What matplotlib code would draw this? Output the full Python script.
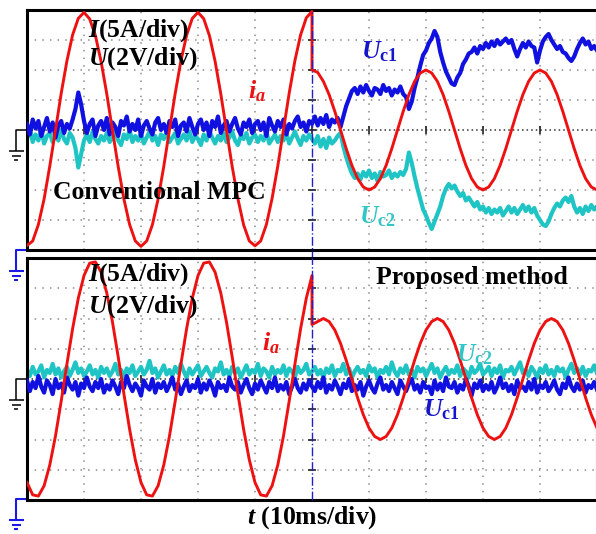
import numpy as np
import matplotlib
matplotlib.use("Agg")
import matplotlib.pyplot as plt

plt.rcParams["font.family"] = ["Liberation Serif", "DejaVu Serif"]
plt.rcParams["mathtext.fontset"] = "custom"
plt.rcParams["mathtext.rm"] = "Liberation Serif:bold"
plt.rcParams["mathtext.it"] = "Liberation Serif:italic:bold"
plt.rcParams["mathtext.bf"] = "Liberation Serif:bold"

RED = "#ee1111"
BLUE = "#1010e0"
CYAN = "#1fc4c4"

# values in divisions (x: 10 ms/div, y: 5 A/div or 2 V/div), step change at 5 div
# phase current, 0.1 div sampling
ia_top_pre = [-3.85, -3.70, -3.15, -2.30, -1.20, 0.00, 1.22, 2.30, 3.17, 3.72, 3.92,
              3.70, 3.15, 2.28, 1.20, -0.02, -1.22, -2.30, -3.15, -3.70, -3.88,
              -3.70, -3.16, -2.30, -1.21, 0.01, 1.22, 2.30, 3.16, 3.72, 3.92,
              3.71, 3.15, 2.29, 1.20, -0.01, -1.22, -2.29, -3.16, -3.70, -3.86,
              -3.70, -3.15, -2.28, -1.20, 0.02, 1.23, 2.31, 3.17, 3.74, 3.95]
ia_top_post = [2.00, 1.92, 1.62, 1.18, 0.62, 0.00, -0.62, -1.18, -1.62, -1.90, -2.00,
               -1.90, -1.62, -1.18, -0.62, 0.00, 0.62, 1.18, 1.62, 1.90, 2.00,
               1.90, 1.62, 1.18, 0.62, 0.00, -0.62, -1.18, -1.62, -1.90, -2.00,
               -1.90, -1.62, -1.18, -0.62, 0.00, 0.62, 1.18, 1.62, 1.90, 2.00,
               1.90, 1.62, 1.18, 0.62, 0.00, -0.62, -1.18, -1.62, -1.90, -2.00]
ia_bot_pre = [-3.42, -3.83, -3.87, -3.53, -2.84, -1.88, -0.73, 0.49, 1.66, 2.67,
              3.42, 3.83, 3.87, 3.53, 2.84, 1.88, 0.73, -0.49, -1.66, -2.67,
              -3.42, -3.83, -3.87, -3.53, -2.84, -1.88, -0.73, 0.49, 1.66, 2.67,
              3.42, 3.83, 3.87, 3.53, 2.84, 1.88, 0.73, -0.49, -1.66, -2.67,
              -3.42, -3.83, -3.87, -3.53, -2.84, -1.88, -0.73, 0.49, 1.66, 2.67,
              3.42]
ia_bot_post = [1.80, 1.90, 2.00, 1.90, 1.62, 1.18, 0.62, 0.00, -0.62, -1.18, -1.62,
               -1.90, -2.00, -1.90, -1.62, -1.18, -0.62, 0.00, 0.62, 1.18, 1.62,
               1.90, 2.00, 1.90, 1.62, 1.18, 0.62, 0.00, -0.62, -1.18, -1.62,
               -1.90, -2.00, -1.90, -1.62, -1.18, -0.62, 0.00, 0.62, 1.18, 1.62,
               1.90, 2.00, 1.90, 1.62, 1.18, 0.62, 0.00, -0.62, -1.18, -1.62]

# capacitor voltages, 0.05 div sampling
uc1_top = [0.20, -0.15, 0.35, 0.05, 0.30, -0.20, 0.10, 0.40, -0.05, 0.25,
           -0.25, 0.15, 0.30, -0.10, 0.20, 0.05, 0.35, 0.70, 1.25, 0.85,
           0.30, -0.10, 0.20, 0.35, -0.20, 0.15, 0.30, 0.00, 0.40, -0.15,
           0.25, 0.10, -0.20, 0.30, 0.15, 0.45, -0.05, 0.20, 0.00, 0.35,
           -0.20, 0.15, 0.30, 0.05, -0.15, 0.25, 0.40, 0.00, 0.20, -0.10,
           0.30, 0.10, 0.35, -0.20, 0.15, 0.25, -0.05, 0.40, 0.10, -0.15,
           0.20, 0.35, 0.00, 0.25, -0.20, 0.30, 0.10, 0.45, -0.10, 0.15,
           0.30, -0.05, 0.20, 0.40, 0.05, -0.15, 0.25, 0.10, 0.35, -0.10,
           0.20, 0.30, 0.00, 0.25, -0.20, 0.40, 0.15, -0.05, 0.30, 0.10,
           0.35, -0.15, 0.20, 0.05, 0.30, 0.45, 0.10, 0.25, -0.05, 0.30,
           0.20, 0.45, 0.15, 0.40, 0.20, 0.50, 0.10, 0.35, 0.25, 0.40,
           0.10, 0.45, 0.80, 1.05, 1.30, 1.40, 1.20, 1.45, 1.25, 1.50,
           1.30, 1.15, 1.40, 1.35, 1.20, 1.50, 1.30, 1.40, 1.15, 1.35,
           1.25, 1.45, 1.20, 1.10, 0.70, 0.95, 1.40, 1.75, 2.15, 2.50,
           2.65, 2.90, 3.05, 3.30, 3.10, 2.60, 2.25, 1.95, 1.75, 1.55,
           1.50, 1.75, 1.90, 2.20, 2.35, 2.55, 2.60, 2.75, 2.55, 2.80,
           2.70, 2.90, 2.75, 2.95, 2.80, 3.00, 2.85, 2.95, 3.05, 2.90,
           3.00, 2.70, 2.45, 2.70, 2.90, 2.75, 2.95, 2.80, 2.75, 2.25,
           2.65, 2.95, 3.10, 3.20, 3.00, 2.85, 2.70, 2.80, 2.60, 2.55,
           2.40, 2.30, 2.45, 2.70, 2.90, 3.05, 2.85, 2.95, 2.70, 2.80,
           2.65]
uc2_top = [-0.30, 0.05, -0.40, -0.15, -0.35, 0.00, -0.45, -0.20, -0.10, -0.40,
           -0.15, -0.35, 0.00, -0.30, -0.45, -0.10, -0.25, -0.60, -1.25, -0.80,
           -0.35, -0.15, -0.40, -0.05, -0.30, -0.45, -0.20, -0.35, -0.10, -0.40,
           -0.25, -0.05, -0.35, -0.50, -0.15, -0.30, 0.00, -0.40, -0.20, -0.35,
           -0.10, -0.45, -0.25, -0.05, -0.35, -0.20, -0.50, -0.15, -0.30, -0.05,
           -0.40, -0.25, -0.10, -0.45, -0.30, -0.15, -0.35, -0.05, -0.40, -0.20,
           -0.30, -0.50, -0.15, -0.35, -0.05, -0.25, -0.45, -0.20, -0.35, -0.10,
           -0.40, -0.25, -0.05, -0.35, -0.50, -0.20, -0.30, -0.10, -0.45, -0.25,
           -0.15, -0.40, -0.20, -0.35, -0.05, -0.45, -0.30, -0.15, -0.40, -0.20,
           -0.35, -0.10, -0.45, -0.25, -0.05, -0.30, -0.50, -0.20, -0.35, -0.15,
           -0.30, -0.45, -0.20, -0.55, -0.30, -0.60, -0.25, -0.45, -0.35, -0.20,
           -0.10, -0.55, -0.90, -1.20, -1.45, -1.60, -1.45, -1.65, -1.40, -1.55,
           -1.35, -1.60, -1.45, -1.70, -1.40, -1.55, -1.50, -1.35, -1.60, -1.45,
           -1.55, -1.40, -1.50, -1.30, -0.75, -1.10, -1.55, -1.95, -2.30, -2.65,
           -2.85, -3.10, -3.30, -3.05, -2.80, -2.55, -2.20, -1.95, -1.80, -1.95,
           -1.85, -2.05, -2.20, -2.10, -2.35, -2.25, -2.40, -2.55, -2.40, -2.65,
           -2.55, -2.75, -2.60, -2.80, -2.65, -2.75, -2.60, -2.85, -2.70, -2.55,
           -2.75, -2.60, -2.80, -2.65, -2.50, -2.70, -2.55, -2.75, -2.60, -2.85,
           -3.00, -3.15, -3.20, -3.05, -2.80, -2.60, -2.45, -2.55, -2.35, -2.25,
           -2.40, -2.20, -2.55, -2.75, -2.60, -2.80, -2.55, -2.70, -2.50, -2.65,
           -2.55]
uc1_bot = [-0.05, -0.40, -0.10, -0.30, 0.10, -0.25, -0.45, -0.05, -0.20, -0.50,
           0.00, -0.30, -0.15, -0.45, 0.05, -0.20, -0.35, -0.10, -0.55, -0.15,
           -0.30, 0.05, -0.25, -0.40, -0.10, -0.30, 0.00, -0.45, -0.20, -0.35,
           -0.05, -0.25, -0.50, -0.10, -0.30, 0.10, -0.20, -0.40, -0.15, -0.30,
           -0.55, -0.05, -0.25, -0.35, 0.00, -0.45, -0.15, -0.30, -0.10, -0.40,
           -0.20, 0.05, -0.35, -0.15, -0.50, -0.25, -0.05, -0.40, -0.20, -0.30,
           0.00, -0.45, -0.15, -0.35, -0.05, -0.25, -0.55, -0.10, -0.30, -0.20,
           -0.40, 0.05, -0.25, -0.35, -0.10, -0.45, -0.20, 0.00, -0.30, -0.50,
           -0.15, -0.35, -0.05, -0.25, -0.45, -0.10, -0.30, 0.05, -0.40, -0.20,
           -0.35, -0.10, -0.50, -0.25, 0.00, -0.30, -0.45, -0.15, -0.35, -0.05,
           -0.25,
           -0.40, -0.10, -0.30, 0.05, -0.45, -0.20, -0.35, -0.05, -0.25, -0.50,
           -0.15, -0.30, 0.00, -0.40, -0.20, -0.35, -0.10, -0.55, -0.25, -0.05,
           -0.30, -0.45, -0.15, 0.05, -0.35, -0.20, -0.40, -0.10, -0.30, -0.50,
           -0.05, -0.25, -0.40, -0.15, 0.00, -0.35, -0.20, -0.45, -0.10, -0.30,
           -0.25, -0.50, -0.05, -0.35, -0.15, -0.40, 0.05, -0.25, -0.30, -0.10,
           -0.45, -0.20, -0.35, 0.00, -0.25, -0.55, -0.15, -0.30, -0.05, -0.40,
           -0.20, -0.35, -0.10, -0.45, -0.25, 0.05, -0.30, -0.15, -0.40, -0.20,
           -0.50, -0.05, -0.30, -0.25, -0.40, -0.10, -0.35, 0.00, -0.45, -0.20,
           -0.30, -0.10, -0.40, -0.25, -0.05, -0.35, -0.50, -0.15, -0.30, 0.05,
           -0.25, -0.40, -0.15, -0.35, -0.05, -0.45, -0.20, -0.30, -0.10, -0.35]
uc2_bot = [0.30, 0.10, 0.40, 0.15, 0.25, 0.45, 0.05, 0.30, 0.20, 0.50,
           0.15, 0.35, 0.05, 0.25, 0.40, 0.10, 0.30, 0.55, 0.20, 0.35,
           0.10, 0.25, 0.45, 0.15, 0.30, 0.05, 0.40, 0.20, 0.35, 0.10,
           0.25, 0.50, 0.15, 0.30, 0.05, 0.35, 0.20, 0.45, 0.10, 0.25,
           0.40, 0.15, 0.30, 0.60, 0.20, 0.35, 0.05, 0.25, 0.45, 0.15,
           0.30, 0.10, 0.40, 0.20, 0.50, 0.25, 0.05, 0.35, 0.15, 0.30,
           0.45, 0.10, 0.25, 0.40, 0.20, 0.05, 0.35, 0.25, 0.55, 0.15,
           0.30, 0.10, 0.40, 0.20, 0.35, 0.05, 0.25, 0.45, 0.15, 0.30,
           0.20, 0.50, 0.10, 0.35, 0.25, 0.05, 0.40, 0.15, 0.30, 0.20,
           0.45, 0.10, 0.35, 0.25, 0.05, 0.40, 0.20, 0.30, 0.50, 0.15,
           0.25,
           0.40, 0.15, 0.30, 0.05, 0.35, 0.20, 0.45, 0.10, 0.30, 0.25,
           0.50, 0.15, 0.35, 0.05, 0.25, 0.40, 0.20, 0.30, 0.10, 0.45,
           0.25, 0.35, 0.05, 0.30, 0.20, 0.40, 0.15, 0.55, 0.25, 0.10,
           0.35, 0.20, 0.45, 0.15, 0.30, 0.05, 0.40, 0.25, 0.35, 0.10,
           0.30, 0.50, 0.20, 0.35, 0.05, 0.25, 0.40, 0.15, 0.30, 0.20,
           0.45, 0.10, 0.35, 0.25, 0.05, 0.40, 0.20, 0.30, 0.50, 0.15,
           0.25, 0.40, 0.10, 0.35, 0.20, 0.45, 0.05, 0.30, 0.25, 0.40,
           0.15, 0.35, 0.55, 0.20, 0.30, 0.10, 0.40, 0.25, 0.05, 0.35,
           0.20, 0.45, 0.15, 0.30, 0.10, 0.40, 0.25, 0.35, 0.05, 0.30,
           0.50, 0.20, 0.35, 0.15, 0.40, 0.10, 0.30, 0.25, 0.45, 0.20]

T_STEP = 5  # division where the step happens

W, H = 596, 534
fig = plt.figure(figsize=(W / 100, H / 100), dpi=100)
ax1 = fig.add_axes([27 / W, (H - 250) / H, 570 / W, 240 / H])
ax2 = fig.add_axes([27 / W, (H - 500) / H, 570 / W, 242 / H])


def scope_grid(ax, trig_ymin):
    ax.set_xlim(0, 10)
    ax.set_ylim(-4, 4)
    ax.set_xticks([])
    ax.set_yticks([])
    for s in ax.spines.values():
        s.set_linewidth(2.2)
    for x in range(1, 10):
        if x != T_STEP:
            ax.axvline(x, color="#8c8c8c", lw=1.1, ls=(0, (1, 4)), zorder=1)
    for y in range(-3, 4):
        if y != 0:
            ax.axhline(y, color="#8c8c8c", lw=1.1, ls=(0, (1, 4)), zorder=1)
    ax.axhline(0, color="#333333", lw=1.1, ls=(0, (1, 2)), zorder=1)
    ax.plot(range(1, 10), [0] * 9, ls="none", marker="|", ms=6, mew=1.2, color="#222222", zorder=1)
    ax.plot([T_STEP] * 7, range(-3, 4), ls="none", marker="_", ms=6, mew=1.2, color="#222222", zorder=1)
    ax.axvline(T_STEP, ymin=trig_ymin, ymax=1, color="#2020cc", lw=1.0, ls="-.", zorder=6, clip_on=False)


def traces(ax, pre, post, u1, u2):
    t_pre = np.arange(len(pre)) * 0.1
    t_post = T_STEP + np.arange(len(post)) * 0.1
    ax.plot(np.arange(len(u2)) * 0.05, u2, color=CYAN, lw=3.0, zorder=2)
    ax.plot(np.arange(len(u1)) * 0.05, u1, color=BLUE, lw=3.0, zorder=3)
    ax.plot(np.concatenate([t_pre, t_post]), pre + post, color=RED, lw=2.1, zorder=4)


scope_grid(ax1, -0.04)
scope_grid(ax2, 0)
traces(ax1, ia_top_pre, ia_top_post, uc1_top, uc2_top)
traces(ax2, ia_bot_pre, ia_bot_post, uc1_bot, uc2_bot)

fs = 18.5
for ax, y1, y2 in [(ax1, 3.33, 2.37), (ax2, 3.44, 2.38)]:
    ax.text(1.07, y1, r"$\mathit{I}$(5A/div)", fontsize=fs, fontweight="bold", ha="left", va="center", zorder=8)
    ax.text(1.07, y2, r"$\mathit{U}$(2V/div)", fontsize=fs, fontweight="bold", ha="left", va="center", zorder=8)

ax1.text(3.88, 1.3, r"$i_a$", fontsize=fs, color=RED, ha="left", va="center", zorder=8)
ax1.text(0.45, -2.07, "Conventional MPC", fontsize=fs, fontweight="bold", ha="left", va="center", zorder=8)
ax1.text(5.86, 2.6, r"$\mathit{U}_{\mathrm{c1}}$", fontsize=fs, color="#1515cc", ha="left", va="center", zorder=8)
ax1.text(5.82, -2.9, r"$\mathit{U}_{\mathrm{c2}}$", fontsize=fs, color="#33c6c6", ha="left", va="center", zorder=8)

ax2.text(4.12, 1.19, r"$i_a$", fontsize=fs, color=RED, ha="left", va="center", zorder=8)
ax2.text(6.12, 3.37, "Proposed method", fontsize=fs, fontweight="bold", ha="left", va="center", zorder=8)
ax2.text(7.53, 0.79, r"$\mathit{U}_{\mathrm{c2}}$", fontsize=fs, color="#33c6c6", ha="left", va="center", zorder=8)
ax2.text(6.95, -1.02, r"$\mathit{U}_{\mathrm{c1}}$", fontsize=fs, color="#1515cc", ha="left", va="center", zorder=8)

ax2.set_xlabel(r"$\mathit{t}$ (10ms/div)", fontsize=fs, fontweight="bold", labelpad=3)

# ground markers on the left edge (pixel overlay)
ov = fig.add_axes([0, 0, 1, 1], zorder=-1)
ov.set_xlim(0, W)
ov.set_ylim(H, 0)
ov.axis("off")


def ground(y0, color, lw):
    ov.plot([27, 16, 16], [y0, y0, y0 + 21], color=color, lw=lw, solid_capstyle="butt")
    for dy, half in [(21, 7.5), (26, 4.5), (29.5, 2)]:
        ov.plot([16 - half, 16 + half], [y0 + dy, y0 + dy], color=color, lw=lw, solid_capstyle="butt")


ground(130, "black", 1.1)
ground(250, "#1a1ae6", 1.5)
ground(379, "black", 1.1)
ground(499, "#1a1ae6", 1.5)

fig.savefig("out.png", dpi=100)
